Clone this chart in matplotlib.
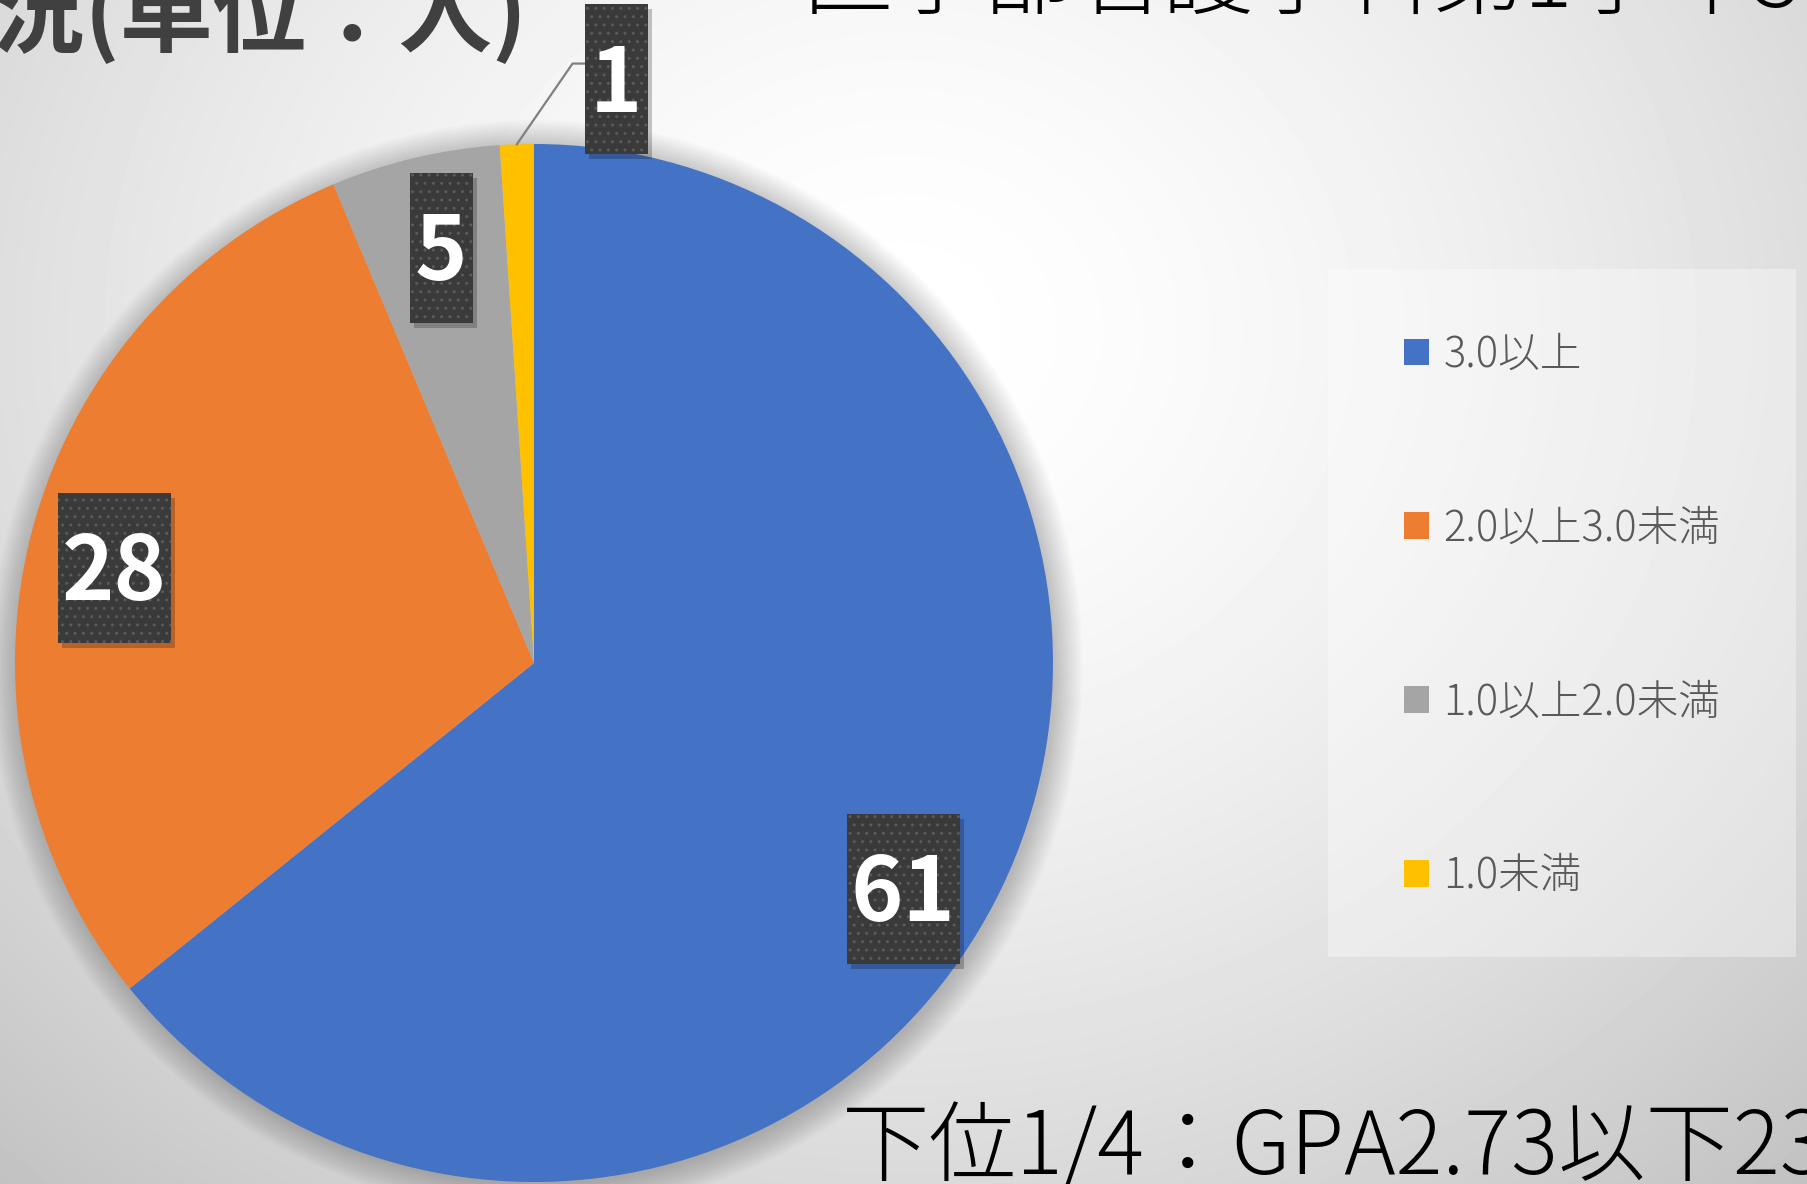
import matplotlib.pyplot as plt
import numpy as np
from matplotlib.patches import Rectangle, Circle, Patch

plt.rcParams['font.family'] = ['Noto Sans CJK JP', 'DejaVu Sans']

# data
categories = ['3.0以上', '2.0以上3.0未満', '1.0以上2.0未満', '1.0未満']
counts = [61, 28, 5, 1]
colors = ['#4472C4', '#ED7D31', '#A5A5A5', '#FFC000']
title_left = 'GPA状況(単位：人)'
title_right = '医学部看護学科第1学年30名'
note_bottom = '下位1/4：GPA2.73以下23名'

# label box centres, in pie radius units
label_xy = [(0.711, -0.435), (-0.809, 0.183), (-0.179, 0.800), (0.158, 1.125)]

W, H = 1808, 1184
fig = plt.figure(figsize=(W / 100, H / 100), dpi=100)

# soft grey background
bg = fig.add_axes([0, 0, 1, 1])
yy, xx = np.mgrid[0:H, 0:W]
d = np.hypot((xx - 900) / 1150, (yy - 330) / 1000)
shade = 1 - 0.19 * np.clip(d, 0, 1.3) ** 1.6
bg.imshow(shade, cmap='gray', vmin=0, vmax=1, aspect='auto')
bg.axis('off')

# pie
cx, cy, R = 534, 663, 519
ax = fig.add_axes([(cx - R) / W, (H - cy - R) / H, 2 * R / W, 2 * R / H])
ax.patch.set_alpha(0)

for k in range(14):
    ax.add_patch(Circle((0.005, -0.006), 1 + 0.004 * k, color='black',
                        alpha=0.014, lw=0, clip_on=False, zorder=0))

wedges, _ = ax.pie(counts, colors=colors, startangle=90, counterclock=False,
                   radius=1, wedgeprops=dict(linewidth=0, zorder=2))
ax.set_xlim(-1, 1)
ax.set_ylim(-1, 1)
ax.axis('off')

fs = 64
cap = 0.73 * fs * 100 / 72 / R
for w, n, (lx, ly) in zip(wedges, counts, label_xy):
    s = str(n)
    bw = (13 + 50 * len(s)) / R
    bh = 150 / R
    ax.add_patch(Rectangle((lx - bw / 2 + 0.008, ly - bh / 2 - 0.01), bw, bh,
                           facecolor='black', alpha=0.22, lw=0, clip_on=False, zorder=4))
    ax.add_patch(Rectangle((lx - bw / 2, ly - bh / 2), bw, bh, facecolor='#3a3a3a',
                           edgecolor='#5a5a5a', hatch='..', lw=0, clip_on=False, zorder=5))
    ax.text(lx, ly - cap / 2, s, ha='center', va='baseline', color='white',
            fontsize=fs, fontweight='bold', zorder=6)
    if np.hypot(lx, ly) > 1:
        t = np.deg2rad((w.theta1 + w.theta2) / 2)
        x0, y0 = np.cos(t), np.sin(t)
        left = lx - bw / 2
        ax.plot([x0, left - 0.023, left], [y0, ly + 0.03, ly + 0.03],
                color='#808080', lw=1.6, clip_on=False, zorder=3)

# legend
fig.patches.append(Rectangle((1328 / W, 1 - 957 / H), (1796 - 1328) / W, (957 - 269) / H,
                             transform=fig.transFigure, facecolor='white', alpha=0.35, lw=0))
handles = [Patch(facecolor=c, edgecolor='none') for c in colors]
fig.legend(handles, categories, loc='upper left', bbox_to_anchor=(1404 / W, 1 - 333 / H),
           frameon=False, prop=dict(size=30, weight='light'), labelcolor='#595959',
           handlelength=0.6, handleheight=0.6, handletextpad=0.35, labelspacing=3.13,
           borderpad=0, borderaxespad=0)

# slide texts
fig.text(527 / W, 1 - 45 / H, title_left, ha='right', va='baseline', fontsize=67,
         fontweight='bold', color='#404040')
fig.text(803 / W, 1 - 8 / H, title_right, ha='left', va='baseline', fontsize=65,
         fontweight='light', color='black')
fig.text(842 / W, 1 - 1174 / H, note_bottom, ha='left', va='baseline', fontsize=63,
         fontweight='light', color='black')

fig.savefig('out.png', dpi=100)
